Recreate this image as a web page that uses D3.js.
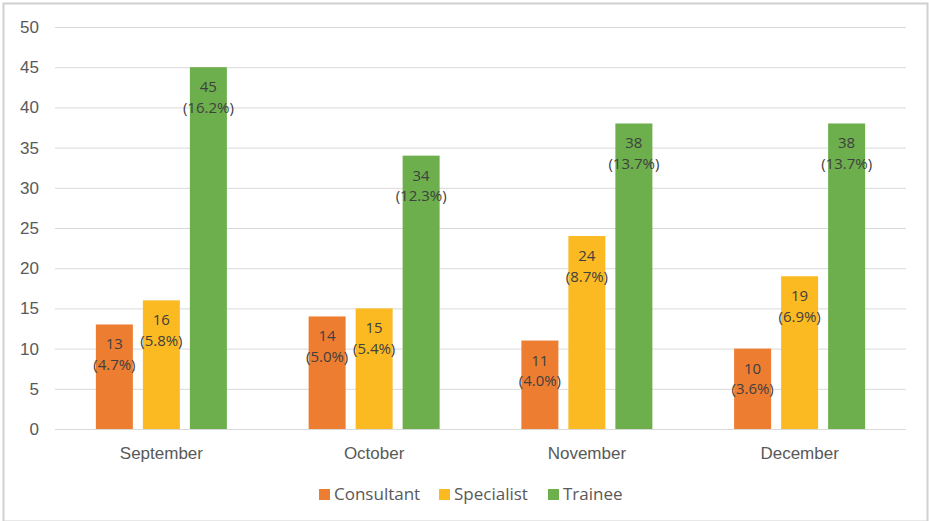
<!DOCTYPE html>
<html>
<head>
<meta charset="utf-8">
<script src="https://cdn.jsdelivr.net/npm/d3@7"></script>
<style>
  html, body { margin: 0; padding: 0; background: #fff; }
  svg { display: block; font-family: "Open Sans", "Noto Sans", sans-serif; }
</style>
</head>
<body>
<svg id="chart" width="929" height="521"></svg>
<script>
// Monthly counts by grade
const months = ["September", "October", "November", "December"];
const grades = ["Consultant", "Specialist", "Trainee"];
const consultant = [13, 14, 11, 10];
const specialist = [16, 15, 24, 19];
const trainee = [45, 34, 38, 38];
const consultantPct = ["4.7%", "5.0%", "4.0%", "3.6%"];
const specialistPct = ["5.8%", "5.4%", "8.7%", "6.9%"];
const traineePct = ["16.2%", "12.3%", "13.7%", "13.7%"];
const yTicks = [0, 5, 10, 15, 20, 25, 30, 35, 40, 45, 50];
const colors = ["#ED7D31", "#FBBA22", "#6CAF4C"];

const seriesValues = [consultant, specialist, trainee];
const seriesPct = [consultantPct, specialistPct, traineePct];

const svg = d3.select("#chart");
const W = 929, H = 521;

// outer frame
svg.append("rect")
  .attr("x", 3.5).attr("y", 3.5)
  .attr("width", W - 5).attr("height", H - 3)
  .attr("fill", "#fff").attr("stroke", "#d0d0d0").attr("stroke-width", 2);

const plot = { left: 55, right: 906, top: 27, bottom: 429 };

const x = d3.scaleBand().domain(months).range([plot.left, plot.right]).paddingInner(0).paddingOuter(0);
const y = d3.scaleLinear().domain([0, 50]).range([plot.bottom, plot.top]);

// gridlines and value axis
const yAxis = d3.axisLeft(y).tickValues(yTicks).tickSize(-(plot.right - plot.left)).tickPadding(16);
const gy = svg.append("g").attr("transform", `translate(${plot.left},0)`).call(yAxis);
gy.select(".domain").remove();
gy.selectAll(".tick line").attr("stroke", "#d9d9d9").attr("stroke-width", 1);
gy.selectAll(".tick text").attr("fill", "#595959").style("font-size", "17px");

// category axis
const xAxis = d3.axisBottom(x).tickSize(0).tickPadding(18);
const gx = svg.append("g").attr("transform", `translate(0,${plot.bottom})`).call(xAxis);
gx.select(".domain").remove();
gx.selectAll(".tick text").attr("fill", "#595959").style("font-size", "17px");

// grouped bars
const inner = d3.scaleBand().domain(grades).range([0, 131]).paddingInner(10 / 47);
const groupOffset = (x.bandwidth() - 131) / 2;
const barCenter = (m, g) => x(m) + groupOffset + inner(g) + inner.bandwidth() / 2;

grades.forEach((g, si) => {
  const vals = seriesValues[si];
  const pcts = seriesPct[si];
  const grp = svg.append("g");
  grp.selectAll("rect")
    .data(months)
    .join("rect")
    .attr("x", (m) => x(m) + groupOffset + inner(g))
    .attr("y", (m, i) => y(vals[i]))
    .attr("width", inner.bandwidth())
    .attr("height", (m, i) => y(0) - y(vals[i]))
    .attr("fill", colors[si]);

  // value label (first line) and share label (second line)
  grp.selectAll("text.val")
    .data(months)
    .join("text")
    .attr("class", "val")
    .attr("text-anchor", "middle")
    .attr("fill", "#404040")
    .style("font-size", "15px")
    .attr("x", (m) => barCenter(m, g))
    .attr("y", (m, i) => y(vals[i]) + 25)
    .text((m, i) => vals[i]);
  grp.selectAll("text.pct")
    .data(months)
    .join("text")
    .attr("class", "pct")
    .attr("text-anchor", "middle")
    .attr("fill", "#404040")
    .style("font-size", "15px")
    .attr("x", (m) => barCenter(m, g))
    .attr("y", (m, i) => y(vals[i]) + 45.5)
    .text((m, i) => `(${pcts[i]})`);
});

// legend
const legendX = [319, 439, 548];
const legend = svg.append("g");
grades.forEach((g, i) => {
  legend.append("rect")
    .attr("x", legendX[i]).attr("y", 489)
    .attr("width", 11).attr("height", 11)
    .attr("fill", colors[i]);
  legend.append("text")
    .attr("x", legendX[i] + 15).attr("y", 500)
    .attr("fill", "#595959")
    .style("font-size", "17px")
    .text(g);
});
</script>
</body>
</html>
